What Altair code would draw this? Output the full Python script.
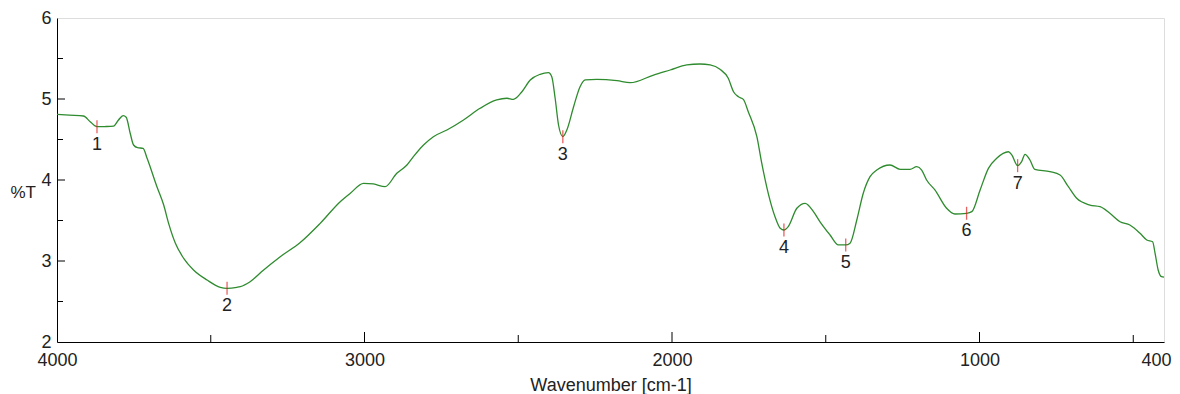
import altair as alt
import pandas as pd

# Spectrum trace
wavenumber = [4000, 3960, 3914, 3892, 3870, 3845, 3816, 3800, 3785, 3775,
              3762, 3751, 3738, 3720, 3707, 3675, 3653, 3637, 3615, 3588,
              3556, 3512, 3469, 3447, 3415, 3404, 3372, 3328, 3274, 3209,
              3144, 3079, 3046, 3003, 2971, 2933, 2895, 2862, 2841, 2808,
              2776, 2732, 2678, 2624, 2570, 2537, 2516, 2488, 2461, 2429,
              2402, 2391, 2380, 2369, 2355, 2342, 2320, 2299, 2282, 2244,
              2179, 2136, 2060, 2006, 1952, 1909, 1876, 1844, 1817, 1800,
              1784, 1768, 1752, 1724, 1708, 1687, 1665, 1648, 1636, 1622,
              1594, 1567, 1540, 1518, 1486, 1459, 1435, 1421, 1399, 1378,
              1356, 1334, 1291, 1258, 1226, 1204, 1188, 1172, 1145, 1107,
              1080, 1042, 1025, 998, 971, 944, 906, 895, 876, 863,
              852, 836, 820, 771, 738, 711, 684, 641, 608, 576,
              543, 511, 478, 456, 437, 429, 419, 408, 400]
transmittance = [4.81, 4.80, 4.79, 4.72, 4.658, 4.66, 4.665, 4.741, 4.794, 4.774,
                 4.577, 4.432, 4.399, 4.391, 4.268, 3.917, 3.691, 3.465, 3.219, 3.033,
                 2.889, 2.765, 2.675, 2.663, 2.675, 2.683, 2.744, 2.889, 3.053, 3.228,
                 3.465, 3.732, 3.836, 3.959, 3.951, 3.917, 4.083, 4.185, 4.288, 4.432,
                 4.535, 4.617, 4.741, 4.885, 4.988, 5.009, 4.996, 5.090, 5.235, 5.305,
                 5.325, 5.275, 5.009, 4.679, 4.535, 4.617, 4.905, 5.152, 5.235, 5.243,
                 5.226, 5.201, 5.296, 5.358, 5.420, 5.432, 5.420, 5.367, 5.256, 5.090,
                 5.028, 4.996, 4.843, 4.535, 4.206, 3.836, 3.547, 3.404, 3.383, 3.425,
                 3.651, 3.712, 3.609, 3.481, 3.321, 3.198, 3.198, 3.219, 3.506, 3.836,
                 4.041, 4.123, 4.185, 4.132, 4.132, 4.164, 4.123, 4.0, 3.877, 3.651,
                 3.580, 3.589, 3.609, 3.877, 4.144, 4.268, 4.349, 4.309, 4.177, 4.226,
                 4.317, 4.247, 4.132, 4.103, 4.062, 3.917, 3.774, 3.691, 3.670, 3.589,
                 3.485, 3.444, 3.342, 3.259, 3.238, 3.095, 2.889, 2.806, 2.80]

# Peak picks
peak_labels = ["1", "2", "3", "4", "5", "6", "7"]
peak_wn = [3870, 3447, 2355, 1636, 1435, 1042, 876]
peak_t = [4.658, 2.663, 4.535, 3.383, 3.198, 3.589, 4.177]

# Axis ticks
x_label_values = [4000, 3000, 2000, 1000, 400]
x_major_ticks = [3000, 2000, 1000]
x_minor_ticks = [3500, 2500, 1500, 500]
y_label_values = [2, 3, 4, 5, 6]
y_major_ticks = [3, 4, 5]
y_minor_ticks = [2.5, 3.5, 4.5, 5.5]

W, H = 1107, 324
FONT = "Liberation Sans"
TXT = "#222222"
FS = 18

spec = pd.DataFrame({"wn": wavenumber, "t": transmittance})
peaks = pd.DataFrame({"wn": peak_wn, "t": peak_t, "label": peak_labels})

xscale = alt.Scale(domain=[400, 4000], reverse=True, nice=False, zero=False)
yscale = alt.Scale(domain=[2, 6], nice=False, zero=False)

xaxis = alt.Axis(values=x_label_values, format="d", ticks=False, grid=False, labelFlush=False,
                 labelAlign={"condition": {"test": "datum.value == 400", "value": "right"},
                             "value": "center"},
                 labelOffset={"condition": {"test": "datum.value == 400", "value": 7},
                              "value": 0},
                 labelFontSize=FS, labelFont=FONT, labelColor=TXT, labelPadding=9,
                 domainColor="black", title="Wavenumber [cm-1]", titleFont=FONT,
                 titleFontSize=FS, titleFontWeight="normal", titleColor=TXT,
                 titleBaseline="middle", titleY=43)
yaxis = alt.Axis(values=y_label_values, format="d", ticks=False, grid=False, labelFlush=False,
                 labelFontSize=FS, labelFont=FONT, labelColor=TXT, labelPadding=6,
                 labelBaseline="middle",
                 domainColor="black", title="%T", titleAngle=0, titleAlign="left",
                 titleBaseline="middle", titleX=-47, titleY=174, titleFont=FONT,
                 titleFontSize=FS - 1, titleFontWeight="normal", titleColor=TXT)

line = alt.Chart(spec).mark_line(color="#2E8B2E", strokeWidth=1.3, interpolate="monotone").encode(
    x=alt.X("wn:Q", scale=xscale, axis=xaxis),
    y=alt.Y("t:Q", scale=yscale, axis=yaxis),
)

def xticks(vals, length):
    return alt.Chart(pd.DataFrame({"v": vals})).mark_rule(color="black", strokeWidth=1).encode(
        x=alt.X("v:Q", scale=xscale), y=alt.value(H), y2=alt.value(H - length))

def yticks(vals, length):
    return alt.Chart(pd.DataFrame({"v": vals})).mark_rule(color="black", strokeWidth=1).encode(
        y=alt.Y("v:Q", scale=yscale), x=alt.value(0), x2=alt.value(length))

peak_ticks = alt.Chart(peaks).mark_tick(color="#E02020", orient="vertical", size=13, thickness=1.3).encode(
    x=alt.X("wn:Q", scale=xscale), y=alt.Y("t:Q", scale=yscale))

peak_text = alt.Chart(peaks).mark_text(font=FONT, fontSize=FS, color=TXT, dy=18,
                                       baseline="middle", align="center").encode(
    x=alt.X("wn:Q", scale=xscale), y=alt.Y("t:Q", scale=yscale), text="label:N")

chart = alt.layer(
    line,
    xticks(x_major_ticks, 10), xticks(x_minor_ticks, 7),
    yticks(y_major_ticks, 8), yticks(y_minor_ticks, 6),
    peak_ticks, peak_text,
).properties(
    width=W, height=H,
    autosize=alt.AutoSizeParams(type="none"),
    padding={"left": 49, "top": 10, "right": 8, "bottom": 52},
).configure_view(stroke="black", strokeWidth=1).configure(background="white")

chart.save("out.html", embed_options={"renderer": "svg", "actions": False})
